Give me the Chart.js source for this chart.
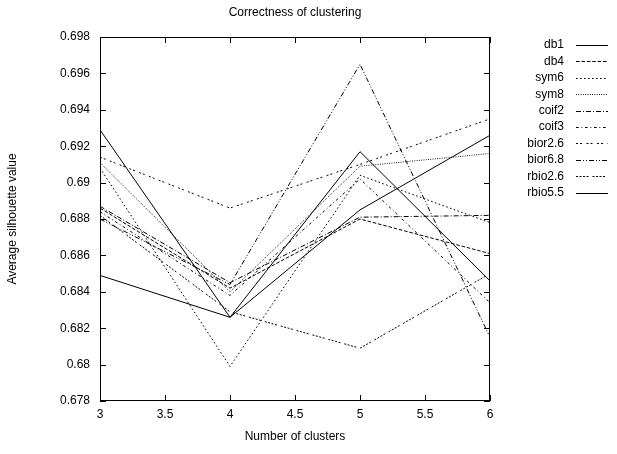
<!DOCTYPE html>
<html>
<head>
<meta charset="utf-8">
<title>Correctness of clustering</title>
<script src="https://cdn.jsdelivr.net/npm/chart.js@4/dist/chart.umd.min.js"></script>
<style>
  html, body { margin: 0; padding: 0; background: #fff; }
  #wrap { width: 617px; height: 454px; }
</style>
</head>
<body>
<div id="wrap"><canvas id="chart" width="617" height="454"></canvas></div>
<script>
// number of clusters on the x axis
const clusters = [3, 4, 5, 6];

// average silhouette value per wavelet
const db1     = [0.6929, 0.6826, 0.6917, 0.6846];
const db4     = [0.6886, 0.6842, 0.6880, 0.6861];
const sym6    = [0.6908, 0.6799, 0.6904, 0.6878];
const sym8    = [0.6911, 0.6840, 0.6909, 0.6916];
const coif2   = [0.6887, 0.6845, 0.6881, 0.6882];
const coif3   = [0.6884, 0.6838, 0.6902, 0.6834];
const bior26  = [0.6914, 0.6886, 0.6910, 0.6935];
const bior68  = [0.6880, 0.6844, 0.6965, 0.6815];
const rbio26  = [0.6882, 0.6829, 0.6809, 0.6850];
const rbio55  = [0.6849, 0.6826, 0.6885, 0.6926];

const names  = ['db1', 'db4', 'sym6', 'sym8', 'coif2', 'coif3', 'bior2.6', 'bior6.8', 'rbio2.6', 'rbio5.5'];
const series = [db1, db4, sym6, sym8, coif2, coif3, bior26, bior68, rbio26, rbio55];

// gnuplot-like line types
const dashes = [
    [],
    [3.6, 1.8],
    [1.6, 2.4],
    [0.9, 1.4],
    [5, 2, 1, 2],
    [2.7, 2.7, 0.9, 2.7],
    [2, 2, 2, 4.5],
    [5, 2, 1, 2, 1, 2],
    [2, 1.5, 2, 1.5, 2, 1.5, 2, 4],
    []
];

const title = 'Correctness of clustering';
const yMin = 0.678, yMax = 0.698, yStep = 0.002;
const xMin = 3, xMax = 6, xStep = 0.5;

Chart.defaults.font.family = "'Liberation Sans', Arial, Helvetica, sans-serif";
Chart.defaults.font.size = 12;
Chart.defaults.color = '#000';

const trim = v => String(Number(v.toFixed(3)));

// border box, inward ticks on all sides, plot title and the key on the right
const frame = {
    id: 'frame',
    afterDatasetsDraw(chart) {
        const {ctx, chartArea: a, scales: {x, y}} = chart;
        const tl = 6;
        ctx.save();
        ctx.strokeStyle = '#000';
        ctx.lineWidth = 1;
        ctx.setLineDash([]);
        ctx.strokeRect(Math.round(a.left) + 0.5, Math.round(a.top) + 0.5,
                       Math.round(a.width) - 1, Math.round(a.height) - 1);
        ctx.beginPath();
        x.ticks.forEach(t => {
            const px = Math.round(x.getPixelForValue(t.value)) + 0.5;
            ctx.moveTo(px, a.bottom); ctx.lineTo(px, a.bottom - tl);
            ctx.moveTo(px, a.top); ctx.lineTo(px, a.top + tl);
        });
        y.ticks.forEach(t => {
            const py = Math.round(y.getPixelForValue(t.value)) + 0.5;
            ctx.moveTo(a.left, py); ctx.lineTo(a.left + tl, py);
            ctx.moveTo(a.right, py); ctx.lineTo(a.right - tl, py);
        });
        ctx.stroke();

        ctx.font = "12px 'Liberation Sans', Arial, sans-serif";
        ctx.fillStyle = '#000';
        ctx.textBaseline = 'middle';
        ctx.textAlign = 'center';
        ctx.fillText(title, (a.left + a.right) / 2, 13);

        // key
        ctx.textAlign = 'right';
        chart.data.datasets.forEach((ds, i) => {
            const ky = 45 + i * 16.4;
            ctx.fillText(ds.label, 564, ky);
            ctx.setLineDash(ds.borderDash);
            ctx.beginPath();
            ctx.moveTo(576, Math.round(ky) + 0.5);
            ctx.lineTo(608, Math.round(ky) + 0.5);
            ctx.stroke();
        });
        ctx.restore();
    }
};

const datasets = names.map((name, i) => ({
    label: name,
    data: clusters.map((c, j) => ({x: c, y: series[i][j]})),
    borderColor: '#000',
    borderWidth: 1,
    borderDash: dashes[i],
    pointRadius: 0,
    fill: false,
    tension: 0
}));

new Chart(document.getElementById('chart').getContext('2d'), {
    type: 'line',
    data: {datasets: datasets},
    options: {
        responsive: false,
        animation: false,
        layout: {padding: {left: 0, right: 127, top: 37, bottom: 0}},
        plugins: {
            legend: {display: false},
            tooltip: {enabled: false},
            title: {display: false}
        },
        scales: {
            x: {
                type: 'linear',
                min: xMin, max: xMax,
                grid: {display: false, drawTicks: false},
                border: {display: false},
                ticks: {stepSize: xStep, padding: 6, maxRotation: 0, callback: v => trim(v)},
                title: {display: true, text: 'Number of clusters', padding: {top: 4, bottom: 10}},
                afterFit: s => { s.height = 53; }
            },
            y: {
                type: 'linear',
                min: yMin, max: yMax,
                grid: {display: false, drawTicks: false},
                border: {display: false},
                ticks: {stepSize: yStep, padding: 10, callback: v => trim(v)},
                title: {display: true, text: 'Average silhouette value', padding: {top: 5, bottom: 4}},
                afterFit: s => { s.width = 100; }
            }
        }
    },
    plugins: [frame]
});
</script>
</body>
</html>
